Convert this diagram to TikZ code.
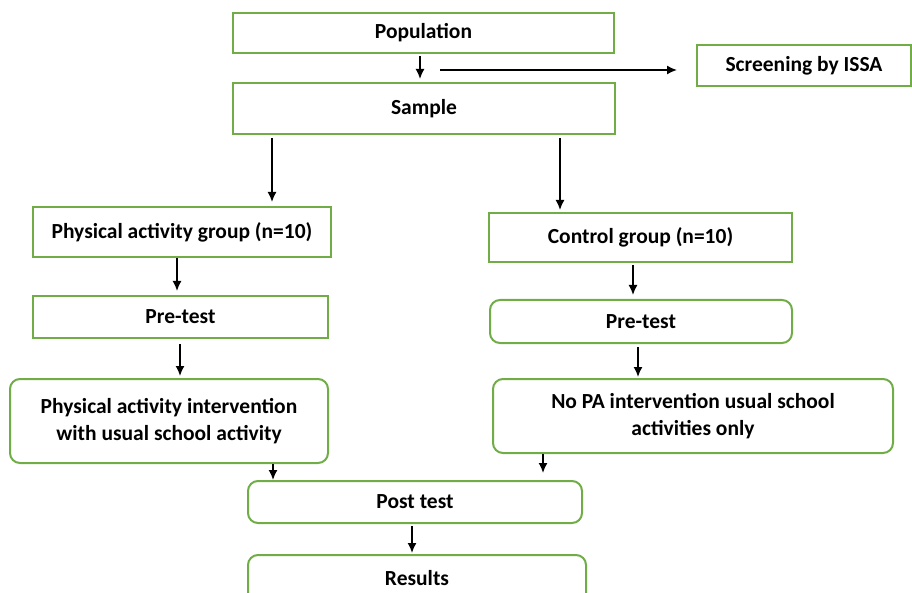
\documentclass[tikz,border=0pt]{standalone}
\usepackage{fontspec}
\setmainfont{Carlito}
\usetikzlibrary{arrows.meta,%
	positioning,%
	calc}
\definecolor{boxgreen}{RGB}{112,173,71}

\begin{document}
\begin{tikzpicture}[x = 1pt, y = -1pt, >={Latex[length = 10pt, width = 9pt]}, font = \fontsize{21.5}{27}\selectfont\bfseries, box/.style = {draw = boxgreen, line width = 2pt, fill = white, inner sep = 0pt, align = center}, rbox/.style = {box, rounded corners = 10pt}, arr/.style = {->, line width = 1.6pt}]
	\clip (0,0) rectangle (912,593);
	\node[box] (pop) at (423.5,33) [minimum width = 381pt, minimum height = 40pt] {Population};
	\node[box] (sample) at (424,108.5) [minimum width = 382pt, minimum height = 51pt] {Sample};
	\node[box] (screen) at (804,65.5) [minimum width = 214pt, minimum height = 41pt] {Screening by ISSA};
	\node[box] (pagrp) at (182,232) [minimum width = 298pt, minimum height = 50pt] {Physical activity group (n=10)};
	\node[box] (ctrlgrp) at (640.5,237.5) [minimum width = 303pt, minimum height = 49pt] {Control group (n=10)};
	\node[box] (preleft) at (180.5,317) [minimum width = 295pt, minimum height = 42pt] {Pre-test};
	\node[rbox] (preright) at (641,321.5) [minimum width = 302pt, minimum height = 43pt] {Pre-test};
	\node[rbox] (intv) at (169,421) [minimum width = 318pt, minimum height = 84pt] {Physical activity intervention\\with usual school activity};
	\node[rbox] (nopa) at (693,416) [minimum width = 400pt, minimum height = 74pt] {No PA intervention usual school\\activities only};
	\node[rbox] (post) at (415,502) [minimum width = 334pt, minimum height = 42pt] {Post test};
	\node[rbox] (results) at (417,590) [minimum width = 338pt, minimum height = 70pt] {};
	\node (restext) at (417,578) {Results};
	\coordinate (split) at (440,70);
	\draw[arr, shorten <= 2pt, shorten >= 3pt] ([xshift = -3.5pt]pop.south) -- ([xshift = -4pt]sample.north);
	\draw[arr, shorten >= 19pt] (split) -- (split -| screen.west);
	\draw[arr, shorten <= 3pt, shorten >= 4pt] ([xshift = -152pt]sample.south) -- ([xshift = -152pt]sample.south |- pagrp.north);
	\draw[arr, shorten <= 3pt, shorten >= 2pt] ([xshift = 136pt]sample.south) -- ([xshift = 136pt]sample.south |- ctrlgrp.north);
	\draw[arr, shorten >= 4pt] ([xshift = -5pt]pagrp.south) -- ([xshift = -5pt]pagrp.south |- preleft.north);
	\draw[arr, shorten <= 2pt, shorten >= 4pt] ([xshift = -7.5pt]ctrlgrp.south) -- ([xshift = -7.5pt]ctrlgrp.south |- preright.north);
	\draw[arr, shorten <= 5pt, shorten >= 2pt] ([xshift = -0.5pt]preleft.south) -- ([xshift = -0.5pt]preleft.south |- intv.north);
	\draw[arr, shorten <= 3pt, shorten >= 1pt] ([xshift = -3pt]preright.south) -- ([xshift = -3pt]preright.south |- nopa.north);
	\draw[arr] ([xshift = 104pt]intv.south) -- ([xshift = 104pt]intv.south |- post.north);
	\draw[arr, shorten >= 7pt] ([xshift = -150pt]nopa.south) -- ([xshift = -150pt]nopa.south |- post.north);
	\draw[arr, shorten <= 2pt, shorten >= 1pt] ([xshift = -3pt]post.south) -- ([xshift = -3pt]post.south |- results.north);
\end{tikzpicture}
\end{document}
